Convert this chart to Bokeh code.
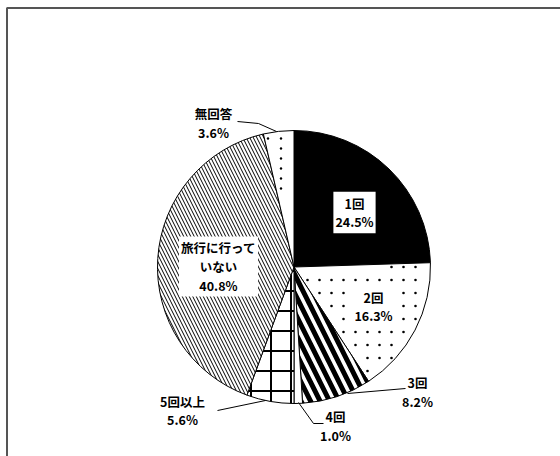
import numpy as np
from bokeh.plotting import figure
from bokeh.models import Range1d
from bokeh.embed import file_html
from bokeh.resources import INLINE
from bokeh.core.properties import value

# ---- data ----
categories = ["1回", "2回", "3回", "4回", "5回以上", "旅行に行っていない", "無回答"]
label_names = ["1回", "2回", "3回", "4回", "5回以上", "旅行に行って\nいない", "無回答"]
percent = [24.5, 16.3, 8.2, 1.0, 5.6, 40.8, 3.6]

# ---- layout (image pixel coordinates, y down) ----
W, H = 560, 456
def Y(y_img):
    return H - y_img

CX, CY, R = 293.5, Y(266.5), 136.5

styles = {
    "1回": dict(fill_color="black"),
    "2回": dict(fill_color="white", dots=(12, 13, 2.6)),
    "3回": dict(fill_color="white", hatch_pattern="\\", hatch_scale=19, hatch_weight=5),
    "4回": dict(fill_color="white"),
    "5回以上": dict(fill_color="white", hatch_pattern="+", hatch_scale=20, hatch_weight=2),
    "旅行に行っていない": dict(fill_color="white", hatch_pattern="\\", hatch_scale=7, hatch_weight=1),
    "無回答": dict(fill_color="white", dots=(13, 10, 2.4)),
}

# label centre offsets from pie centre (px, y down) and whether boxed
label_pos = {
    "1回": (60.5, -54.5, True),
    "2回": (79.5, 39.5, True),
    "3回": (123.5, 125.0, False),
    "4回": (41.5, 159.0, False),
    "5回以上": (-111.5, 143.5, False),
    "旅行に行っていない": (-75.5, -0.5, True),
    "無回答": (-80.5, -144.0, False),
}
leaders = {
    "3回": [(347, 393), (405, 388)],
    "4回": [(298, 402), (313, 423), (323, 423)],
    "5回以上": [(265, 400), (217, 410)],
    "無回答": [(276, 131), (258, 123), (237, 121)],
}

p = figure(width=W, height=H, output_backend="svg", toolbar_location=None,
           x_range=Range1d(0, W), y_range=Range1d(0, H),
           min_border=0)
p.axis.visible = False
p.grid.visible = False
p.outline_line_color = None
p.background_fill_color = "white"

# frame
p.line(x=[6.5, 6.5, 600], y=[Y(500), Y(7.5), Y(7.5)], line_color="#555555", line_width=2)

frac = np.array(percent) / np.sum(percent)
cum_end = np.cumsum(frac)
cum_start = cum_end - frac

def wrap(a):
    return np.mod(a, 2 * np.pi)

for i, cat in enumerate(categories):
    a_start = np.pi / 2 - 2 * np.pi * cum_end[i]
    a_end = np.pi / 2 - 2 * np.pi * cum_start[i]
    st = styles[cat]
    kw = dict(fill_color=st["fill_color"], line_color="black", line_width=1)
    if st.get("hatch_pattern"):
        kw.update(hatch_pattern=st["hatch_pattern"], hatch_scale=st["hatch_scale"],
                  hatch_weight=st["hatch_weight"], hatch_color="black")
    p.wedge(x=CX, y=CY, radius=R, start_angle=a_start, end_angle=a_end, **kw)
    if "dots" in st:
        sx, sy, sz = st["dots"]
        gx, gy = np.meshgrid(np.arange(CX - R, CX + R, sx), np.arange(CY - R, CY + R, sy))
        gx = gx.ravel() + sx / 2
        gy = gy.ravel() + sy / 2
        rr = np.hypot(gx - CX, gy - CY)
        ang = wrap(np.arctan2(gy - CY, gx - CX) - a_start)
        span = a_end - a_start
        m = (rr < R - 3) & (ang < span)
        d1 = rr * np.sin(np.minimum(ang, np.pi / 2))
        d2 = rr * np.sin(np.minimum(span - ang, np.pi / 2))
        m &= (d1 > 3) & (d2 > 3)
        p.scatter(x=gx[m], y=gy[m], size=sz, marker="circle", fill_color="black", line_color=None)

for cat, pts in leaders.items():
    p.line(x=[q[0] for q in pts], y=[Y(q[1]) for q in pts], line_color="black", line_width=1)

for i, cat in enumerate(categories):
    dx, dy, boxed = label_pos[cat]
    txt = f"{label_names[i]}\n{percent[i]:.1f}%"
    kw = dict(text_font=value("Noto Sans CJK JP"), text_font_style="bold",
              text_font_size="12.5px", text_align="center", text_baseline="middle",
              text_line_height=0.98, text_color="black")
    if boxed:
        kw.update(background_fill_color="white", padding=2)
    p.text(x=[CX + dx], y=[CY - dy], text=[txt], **kw)

open("out.html", "w").write(file_html(p, INLINE))
